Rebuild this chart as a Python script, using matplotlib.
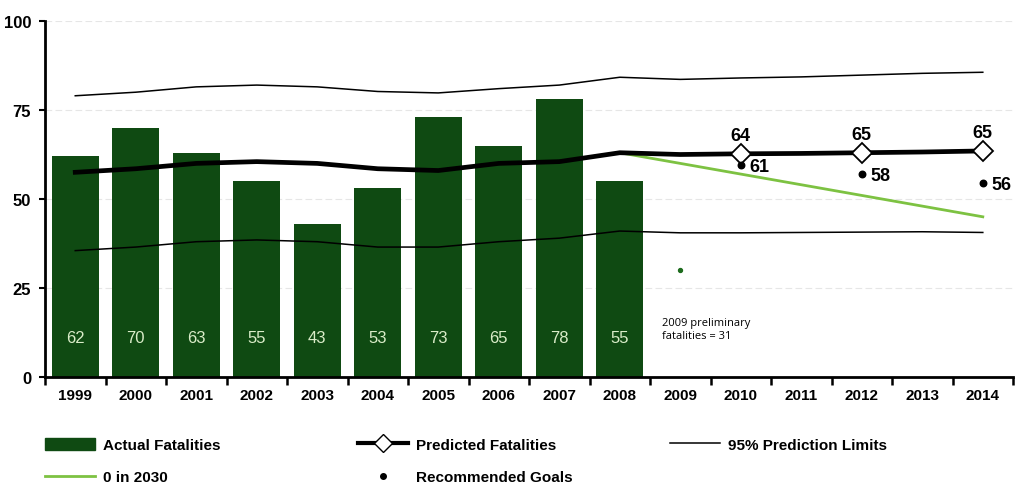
import numpy as np
import matplotlib.pyplot as plt
from matplotlib.lines import Line2D
from matplotlib.patches import Patch

plt.rcParams['font.family'] = ['Liberation Sans', 'DejaVu Sans']

# Data
years = [1999, 2000, 2001, 2002, 2003, 2004, 2005, 2006, 2007, 2008,
         2009, 2010, 2011, 2012, 2013, 2014]
actual_years = years[:10]
actual = [62, 70, 63, 55, 43, 53, 73, 65, 78, 55]

predicted = [57.5, 58.5, 60, 60.5, 60, 58.5, 58, 60, 60.5, 63,
             62.5, 62.7, 62.8, 63, 63.2, 63.5]
predicted_labels = {2010: "64", 2012: "65", 2014: "65"}

upper_limit = [79, 80, 81.5, 82, 81.5, 80.2, 79.8, 81, 82, 84.2,
               83.6, 84, 84.3, 84.8, 85.3, 85.6]
lower_limit = [35.5, 36.5, 38, 38.5, 38, 36.5, 36.5, 38, 39, 41,
               40.5, 40.5, 40.6, 40.7, 40.8, 40.6]

zero_2030_years = [2008, 2014]
zero_2030 = [63, 45]

goal_years = [2010, 2012, 2014]
goal_values = [59.5, 57, 54.5]
goal_labels = ["61", "58", "56"]

prelim_year = 2009
prelim_value = 30

bar_green = '#0f4a12'
line_green = '#7dc242'

fig = plt.figure(figsize=(10.16, 4.89), dpi=100)
ax = fig.add_axes([0.0443, 0.227, 0.9528, 0.728])

x = np.arange(len(years))
xa = x[:len(actual)]

# bars
ax.bar(xa, actual, width=0.78, color=bar_green, zorder=2)
for xi, v in zip(xa, actual):
    ax.text(xi, 11, str(v), ha='center', va='center', color='#d9ecc8',
            fontsize=12, zorder=3)

# prediction limits
ax.plot(x, upper_limit, color='black', lw=1.1, zorder=3)
ax.plot(x, lower_limit, color='black', lw=1.1, zorder=3)

# predicted fatalities
mark_idx = [years.index(y) for y in predicted_labels]
ax.plot(x, predicted, color='black', lw=3.4, zorder=4,
        marker='D', markevery=mark_idx, markersize=10,
        markerfacecolor='white', markeredgecolor='black', markeredgewidth=1.3)
for y, lab in predicted_labels.items():
    i = years.index(y)
    ax.annotate(lab, (x[i], predicted[i]), xytext=(0, 7), textcoords='offset points',
                ha='center', va='bottom', fontsize=13, fontweight='bold')

# 0 in 2030
xz = [years.index(y) for y in zero_2030_years]
ax.plot(xz, zero_2030, color=line_green, lw=2, zorder=3)

# recommended goals
xg = [years.index(y) for y in goal_years]
ax.scatter(xg, goal_values, s=22, color='black', zorder=5)
for xi, v, lab in zip(xg, goal_values, goal_labels):
    ax.annotate(lab, (xi, v), xytext=(6, -1), textcoords='offset points',
                ha='left', va='center', fontsize=13, fontweight='bold')

ax.scatter([years.index(prelim_year)], [prelim_value], s=8, color='#1d6b1d', zorder=5)
ax.text(years.index(prelim_year) - 0.3, 13.5, "2009 preliminary\nfatalities = 31",
        fontsize=8, ha='left', va='center', linespacing=1.3,
        family=['Open Sans', 'DejaVu Sans'])

# axes styling
ax.set_xlim(-0.5, len(years) - 0.5)
ax.set_ylim(0, 100)
ax.set_yticks([0, 25, 50, 75, 100])
ax.set_yticklabels(['0', '25', '50', '75', '100'], fontsize=12, fontweight='bold')
ax.yaxis.grid(True, color='#e6e6e6', lw=0.8, ls=(0, (6, 3)), zorder=0)
ax.set_axisbelow(True)

ax.set_xticks(x)
ax.set_xticklabels([str(y) for y in years], fontsize=11, fontweight='bold')
ax.tick_params(axis='x', length=0, pad=8)
ax.set_xticks(np.arange(-0.5, len(years)), minor=True)
ax.tick_params(axis='x', which='minor', length=6, width=1.8, direction='out')
ax.tick_params(axis='y', length=4, width=1.5, pad=6)

for s in ['top', 'right']:
    ax.spines[s].set_visible(False)
ax.spines['left'].set_linewidth(2)
ax.spines['bottom'].set_linewidth(2)

# legends
leg_kw = dict(frameon=False, prop={'size': 11, 'weight': 'bold'},
              handlelength=3.3, handleheight=0.9, handletextpad=0.5,
              labelspacing=1.15, borderaxespad=0, borderpad=0)
h1 = [Patch(facecolor=bar_green, edgecolor=bar_green),
      Line2D([], [], color=line_green, lw=2)]
fig.legend(h1, ['Actual Fatalities', '0 in 2030'], loc='upper left',
           bbox_to_anchor=(0.044, 0.103), **leg_kw)
h2 = [Line2D([], [], color='black', lw=3, marker='D', markersize=9,
             markerfacecolor='white', markeredgecolor='black'),
      Line2D([], [], color='black', lw=0, marker='o', markersize=4)]
fig.legend(h2, ['Predicted Fatalities', 'Recommended Goals'], loc='upper left',
           bbox_to_anchor=(0.352, 0.103), **leg_kw)
h3 = [Line2D([], [], color='black', lw=1.1)]
fig.legend(h3, ['95% Prediction Limits'], loc='upper left',
           bbox_to_anchor=(0.659, 0.103), **leg_kw)

fig.savefig('out.png', dpi=100)
